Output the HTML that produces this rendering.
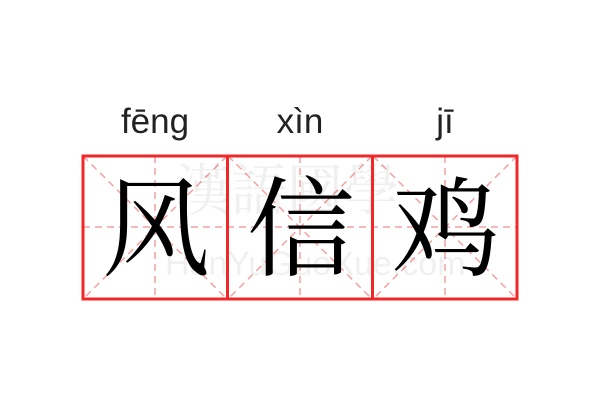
<!DOCTYPE html>
<html><head><meta charset="utf-8"><style>
body{margin:0;background:#fff;width:600px;height:400px;overflow:hidden}
</style></head><body>
<svg width="600" height="400" xmlns="http://www.w3.org/2000/svg">
<g font-family="Liberation Sans, sans-serif" font-size="35" fill="#222" text-anchor="middle">
<text x="155" y="133">fēng</text>
<text x="300" y="133">xìn</text>
<text x="445" y="133">jī</text>
</g>
<g stroke="#f7a0a0" stroke-width="1.5" stroke-dasharray="7,5" fill="none">
<line x1="83" y1="156" x2="227" y2="299"/><line x1="227" y1="156" x2="83" y2="299"/>
<line x1="228" y1="156" x2="372" y2="299"/><line x1="372" y1="156" x2="228" y2="299"/>
<line x1="373" y1="156" x2="517" y2="299"/><line x1="517" y1="156" x2="373" y2="299"/>
<line x1="83" y1="227" x2="517" y2="227"/>
<line x1="155" y1="156" x2="155" y2="299"/>
<line x1="300" y1="156" x2="300" y2="299"/>
<line x1="445" y1="156" x2="445" y2="299"/>
</g>
<g font-family="Liberation Sans, sans-serif" fill="#000" fill-opacity="0.06" font-size="34">
<text x="175" y="210" font-size="56" font-family="Noto Serif CJK TC, serif">漢語國學</text>
<text x="165" y="275">HanYuGuoXue.com</text>
</g>
<g stroke="#f02828" stroke-width="3" fill="none">
<rect x="83" y="156" width="434" height="143"/>
<line x1="227.5" y1="156" x2="227.5" y2="299"/>
<line x1="372.5" y1="156" x2="372.5" y2="299"/>
</g>
<g font-family="Noto Serif CJK SC, serif" font-size="108" fill="#000" text-anchor="middle">
<text x="156" y="267">风</text>
<text x="301" y="267">信</text>
<text x="446" y="267">鸡</text>
</g>
</svg>
</body></html>
